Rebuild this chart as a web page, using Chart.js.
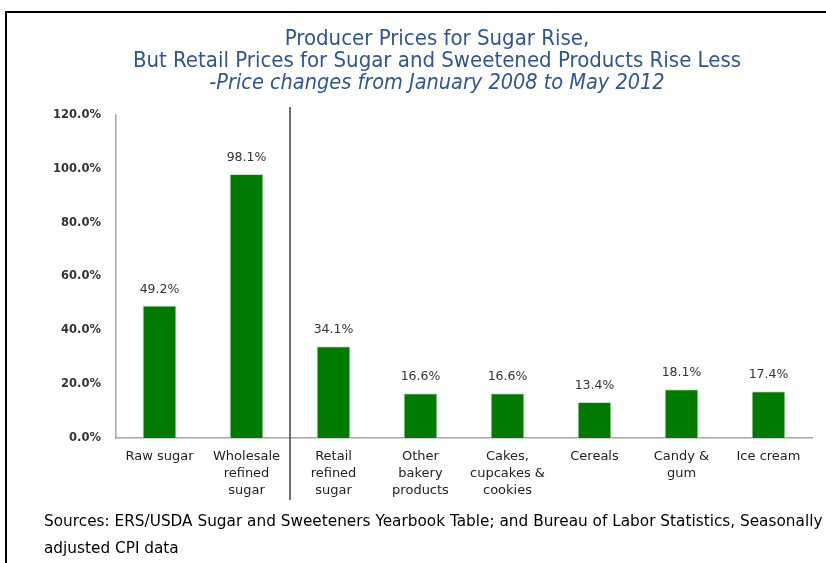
<!DOCTYPE html>
<html>
<head>
<meta charset="utf-8">
<script src="https://cdn.jsdelivr.net/npm/chart.js@4.4.1/dist/chart.umd.min.js"></script>
<style>
  body { margin: 0; background: #fff; }
  #wrap { position: relative; width: 826px; height: 563px; overflow: hidden; }
  #frame { position: absolute; left: 5px; top: 11px; width: 840px; height: 570px;
           border-top: 2px solid #000; border-left: 2px solid #000; pointer-events: none; }
  #title { position: absolute; left: 0; top: 27px; width: 874px; text-align: center; color: #2f5597;
           font: 22px 'DejaVu Sans Condensed', 'Liberation Sans', sans-serif; line-height: 22px; }
  #title i { font-size: 21.5px; }
  #sources { position: absolute; left: 44px; top: 508px; font: 15.3px 'DejaVu Sans', sans-serif;
             line-height: 27px; color: #000; white-space: nowrap; }
</style>
</head>
<body>
<div id="wrap">
  <canvas id="sugarChart" width="826" height="563"></canvas>
  <div id="frame"></div>
  <div id="title"></div>
  <div id="sources">Sources: ERS/USDA Sugar and Sweeteners Yearbook Table; and Bureau of Labor Statistics, Seasonally<br>adjusted CPI data</div>
</div>
<script>
const categories = [
    'Raw sugar',
    ['Wholesale', 'refined', 'sugar'],
    ['Retail', 'refined', 'sugar'],
    ['Other', 'bakery', 'products'],
    ['Cakes,', 'cupcakes &', 'cookies'],
    'Cereals',
    ['Candy &', 'gum'],
    'Ice cream'
];
const priceChange = [49.2, 98.1, 34.1, 16.6, 16.6, 13.4, 18.1, 17.4];

const titleLines = ['Producer Prices for Sugar Rise,', 'But Retail Prices for Sugar and Sweetened Products Rise Less'];
const subtitleText = '-Price changes from January 2008 to May 2012';

// title sits off-centre in the original, so it is laid out as html over the canvas
const titleDiv = document.getElementById('title');
titleLines.forEach(line => {
    titleDiv.appendChild(document.createTextNode(line));
    titleDiv.appendChild(document.createElement('br'));
});
const sub = document.createElement('i');
sub.textContent = subtitleText;
titleDiv.appendChild(sub);

// value labels above each bar
const valueLabels = {
    id: 'valueLabels',
    afterDatasetsDraw(chart) {
        const ctx = chart.ctx;
        const meta = chart.getDatasetMeta(0);
        ctx.save();
        ctx.font = "12.5px 'DejaVu Sans', sans-serif";
        ctx.fillStyle = '#333';
        ctx.textAlign = 'center';
        ctx.textBaseline = 'bottom';
        meta.data.forEach((bar, i) => {
            ctx.fillText(priceChange[i].toFixed(1) + '%', bar.x, bar.y - 10);
        });
        ctx.restore();
    }
};

// vertical line between producer and retail prices
const divider = {
    id: 'divider',
    afterDraw(chart) {
        const x = chart.scales.x;
        const px = (x.getPixelForValue(1) + x.getPixelForValue(2)) / 2;
        const ctx = chart.ctx;
        ctx.save();
        ctx.strokeStyle = '#404040';
        ctx.lineWidth = 1.5;
        ctx.beginPath();
        ctx.moveTo(px, chart.chartArea.top - 8);
        ctx.lineTo(px, 500);
        ctx.stroke();
        ctx.restore();
    }
};

new Chart('sugarChart', {
    type: 'bar',
    data: {
        labels: categories,
        datasets: [{
            data: priceChange,
            backgroundColor: '#007a00',
            borderColor: '#cfe3cf',
            borderWidth: 1,
            barPercentage: 0.39,
            categoryPercentage: 1
        }]
    },
    options: {
        responsive: false,
        animation: false,
        layout: { padding: { left: 10, right: 14, top: 115, bottom: 0 } },
        plugins: {
            legend: { display: false },
            tooltip: { enabled: false }
        },
        scales: {
            x: {
                grid: { display: false, drawTicks: false },
                border: { display: true, color: '#a6a6a6', width: 1.5 },
                ticks: {
                    color: '#222',
                    padding: 10,
                    maxRotation: 0,
                    autoSkip: false,
                    font: { size: 13, family: "'DejaVu Sans', sans-serif", lineHeight: 1.3 }
                },
                afterFit(scale) { scale.height = 125; }
            },
            y: {
                min: 0,
                max: 120,
                grid: { display: false, drawTicks: false },
                border: { display: true, color: '#a6a6a6', width: 1.5 },
                ticks: {
                    stepSize: 20,
                    color: '#333',
                    padding: 15,
                    font: { size: 11.5, weight: 'bold', family: "'DejaVu Sans', sans-serif" },
                    callback: v => v.toFixed(1) + '%'
                },
                afterFit(scale) { scale.width = 106; }
            }
        }
    },
    plugins: [valueLabels, divider]
});
</script>
</body>
</html>
